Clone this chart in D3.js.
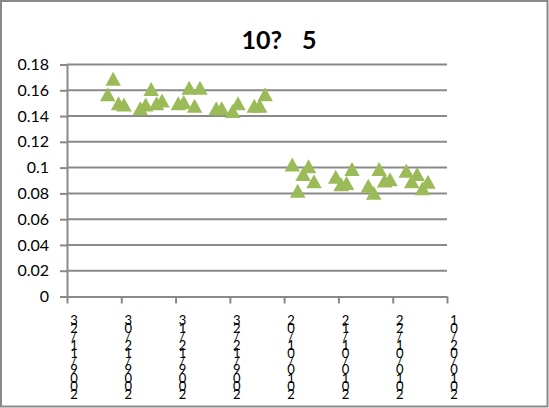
<!DOCTYPE html>
<html>
<head>
<meta charset="utf-8">
<script src="https://cdn.jsdelivr.net/npm/d3@7"></script>
<style>
  html, body { margin: 0; padding: 0; background: #fff; }
  svg { display: block; }
  text { font-family: Lato, "Open Sans", sans-serif; fill: #000; }
  .xlabel { writing-mode: vertical-rl; text-orientation: upright; }
</style>
</head>
<body>
<script>
// Chart title
const title = "10?  5";

// Observation dates and values
const dates = [
  "2009-11-30", "2009-12-01", "2009-12-02", "2009-12-03",
  "2009-12-06", "2009-12-07", "2009-12-08", "2009-12-09", "2009-12-10",
  "2009-12-13", "2009-12-14", "2009-12-15", "2009-12-16", "2009-12-17",
  "2009-12-20", "2009-12-21", "2009-12-23", "2009-12-24",
  "2009-12-27", "2009-12-28", "2009-12-29",
  "2010-01-03", "2010-01-04", "2010-01-05", "2010-01-06", "2010-01-07",
  "2010-01-11", "2010-01-12", "2010-01-13", "2010-01-14",
  "2010-01-17", "2010-01-18", "2010-01-19", "2010-01-20", "2010-01-21",
  "2010-01-24", "2010-01-25", "2010-01-26", "2010-01-27", "2010-01-28"
];
const values = [
  0.157, 0.169, 0.150, 0.149,
  0.146, 0.149, 0.161, 0.150, 0.152,
  0.150, 0.151, 0.162, 0.148, 0.162,
  0.146, 0.146, 0.144, 0.150,
  0.148, 0.148, 0.157,
  0.1025, 0.082, 0.095, 0.101, 0.0895,
  0.093, 0.087, 0.088, 0.099,
  0.086, 0.0805, 0.099, 0.090, 0.091,
  0.0975, 0.0895, 0.095, 0.084, 0.089
];

// Axis ticks
const xTickDates = [
  "2009/11/23", "2009/12/03", "2009/12/13", "2009/12/23",
  "2010/01/02", "2010/01/12", "2010/01/22", "2010/02/01"
];
const yTicks = [0, 0.02, 0.04, 0.06, 0.08, 0.1, 0.12, 0.14, 0.16, 0.18];
const yTickLabels = ["0", "0.02", "0.04", "0.06", "0.08", "0.1", "0.12", "0.14", "0.16", "0.18"];

const W = 549, H = 408;
const plot = { left: 67, right: 447, top: 64.5, bottom: 296.5 };
const gridColor = "#898989";
const markerColor = "#9bbb59";

const parseDash = d3.timeParse("%Y-%m-%d");
const parseSlash = d3.timeParse("%Y/%m/%d");

const svg = d3.select("body").append("svg")
  .attr("width", W).attr("height", H);

// outer frame
svg.append("rect")
  .attr("x", 1).attr("y", 1)
  .attr("width", W - 2.5).attr("height", H - 2.5)
  .attr("fill", "#fff").attr("stroke", gridColor).attr("stroke-width", 2);

const x = d3.scaleTime()
  .domain([parseSlash(xTickDates[0]), parseSlash(xTickDates[xTickDates.length - 1])])
  .range([plot.left, plot.right]);
const y = d3.scaleLinear().domain([0, 0.18]).range([plot.bottom, plot.top]);

// horizontal gridlines
svg.append("g").selectAll("line")
  .data(yTicks.filter(v => v > 0))
  .join("line")
  .attr("x1", plot.left).attr("x2", plot.right)
  .attr("y1", d => y(d)).attr("y2", d => y(d))
  .attr("stroke", gridColor).attr("stroke-width", 2);

// y axis
const yAxis = d3.axisLeft(y)
  .tickValues(yTicks)
  .tickFormat((d, i) => yTickLabels[i])
  .tickSize(7)
  .tickPadding(11);
const gy = svg.append("g")
  .attr("transform", `translate(${plot.left},0)`)
  .call(yAxis);
gy.select(".domain").attr("stroke", gridColor).attr("stroke-width", 2);
gy.selectAll(".tick line").attr("stroke", gridColor).attr("stroke-width", 2);
gy.selectAll(".tick text")
  .attr("font-family", "Lato, sans-serif")
  .attr("font-size", 16)
  .attr("fill", "#000");

// x axis
const xTickValues = xTickDates.map(parseSlash);
const xAxis = d3.axisBottom(x)
  .tickValues(xTickValues)
  .tickFormat("")
  .tickSize(7)
  .tickSizeOuter(0);
const gx = svg.append("g")
  .attr("transform", `translate(0,${plot.bottom})`)
  .call(xAxis);
gx.select(".domain").attr("stroke", gridColor).attr("stroke-width", 2);
gx.selectAll(".tick line").attr("stroke", gridColor).attr("stroke-width", 2);

// x tick labels: upright characters stacked vertically, read from bottom to top
const fmt = d3.timeFormat("%Y/%m/%d");
svg.append("g").selectAll("text")
  .data(xTickValues)
  .join("text")
  .attr("class", "xlabel")
  .attr("x", d => x(d) + 7)
  .attr("y", 312)
  .attr("font-size", 13)
  .attr("textLength", 90)
  .attr("lengthAdjust", "spacing")
  .text(d => fmt(d).split("").reverse().join(""));

// markers: triangles centred on their bounding box
const triW = 15.5, triH = 14;
const triangle = `M0,${-triH / 2}L${triW / 2},${triH / 2}L${-triW / 2},${triH / 2}Z`;
const halfDay = d => d3.timeHour.offset(d, 12);
svg.append("g").selectAll("path")
  .data(dates.map((d, i) => ({ date: parseDash(d), value: values[i] })))
  .join("path")
  .attr("d", triangle)
  .attr("transform", d => `translate(${x(halfDay(d.date))},${y(d.value)})`)
  .attr("fill", markerColor);

// title
svg.append("text")
  .attr("x", 279)
  .attr("y", 48.5)
  .attr("text-anchor", "middle")
  .attr("font-size", 25)
  .attr("font-weight", "bold")
  .attr("word-spacing", 4)
  .style("white-space", "pre")
  .text(title);
</script>
</body>
</html>
